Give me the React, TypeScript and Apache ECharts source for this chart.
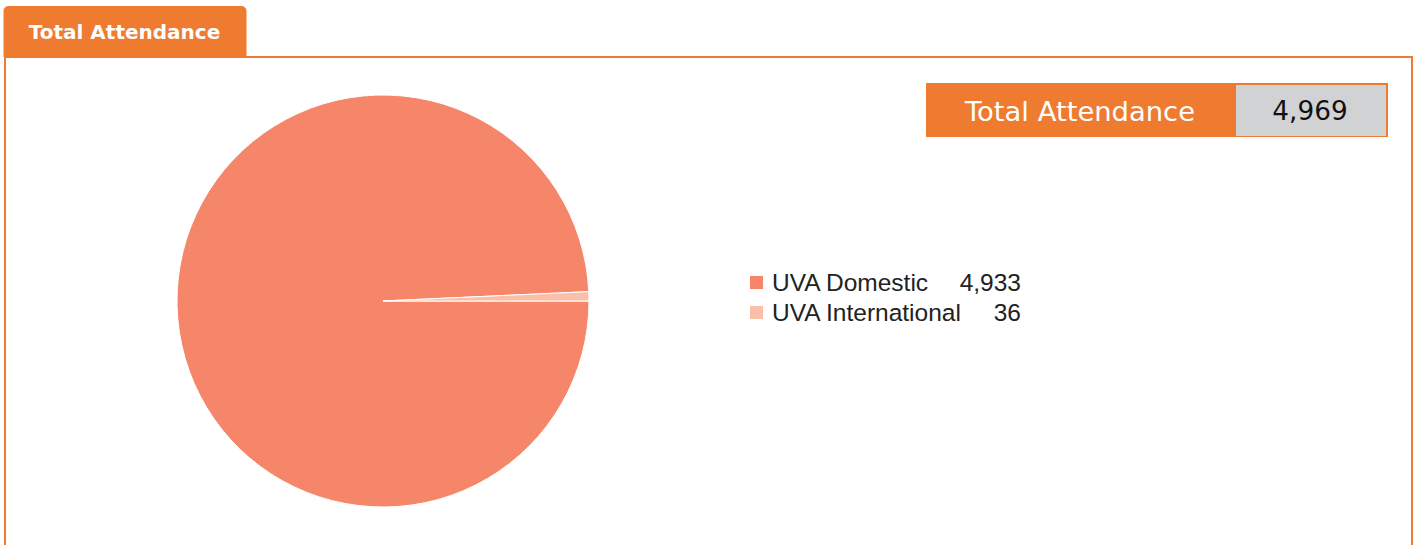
import React, { useEffect, useRef } from "react";
import * as echarts from "echarts";

const categories = ["UVA Domestic", "UVA International"];
const values = [4933, 36];
const colors = ["#F5866A", "#F9BFA8"];
const tabTitle = "Total Attendance";
const boxLabel = "Total Attendance";
const totalValue = 4969;

const ORANGE = "#EF7B30";

const fmt = (v: number) => v.toLocaleString("en-US");

export default function App() {
  const ref = useRef<HTMLDivElement>(null);
  useEffect(() => {
    if (!ref.current) return;
    const chart = echarts.init(ref.current, null, { renderer: "svg" });
    const valueByName: Record<string, number> = {};
    categories.forEach((c, i) => (valueByName[c] = values[i]));
    const legendFont = "Liberation Sans, Arial, sans-serif";
    chart.setOption({
      animation: false,
      backgroundColor: "#ffffff",
      color: colors,
      legend: {
        orient: "vertical",
        left: 748,
        top: 270,
        padding: 0,
        icon: "rect",
        itemWidth: 15,
        itemHeight: 15,
        itemGap: 5,
        selectedMode: false,
        data: categories,
        formatter: (name: string) => `{n|${name}}{v|${fmt(valueByName[name])}}`,
        textStyle: {
          fontFamily: legendFont,
          fontSize: 24.5,
          color: "#222222",
          rich: {
            n: {
              fontFamily: legendFont,
              fontSize: 24.5,
              color: "#222222",
              width: 192,
              padding: [0, 0, 0, 3],
            },
            v: {
              fontFamily: legendFont,
              fontSize: 24.5,
              color: "#222222",
              width: 57,
              align: "right",
            },
          },
        },
      },
      series: [
        {
          type: "pie",
          center: [383, 301],
          radius: 206,
          startAngle: 0,
          clockwise: true,
          label: { show: false },
          labelLine: { show: false },
          emphasis: { disabled: true },
          itemStyle: { borderColor: "#ffffff", borderWidth: 1 },
          data: categories.map((c, i) => ({ name: c, value: values[i] })),
        },
      ],
      graphic: [
        {
          type: "rect",
          shape: { x: 3.5, y: 6, width: 243, height: 51, r: [5, 5, 0, 0] },
          style: { fill: ORANGE },
          silent: true,
        },
        {
          type: "text",
          x: 124.5,
          y: 32,
          style: {
            text: tabTitle,
            fill: "#ffffff",
            font: "bold 20px 'DejaVu Sans', Verdana, sans-serif",
            align: "center",
            verticalAlign: "middle",
          },
          silent: true,
        },
        {
          type: "rect",
          shape: { x: 5, y: 57, width: 1407, height: 600 },
          style: { fill: "none", stroke: ORANGE, lineWidth: 2 },
          silent: true,
        },
        {
          type: "rect",
          shape: { x: 926, y: 83, width: 462, height: 54 },
          style: { fill: ORANGE },
          silent: true,
        },
        {
          type: "rect",
          shape: { x: 1236, y: 85, width: 150, height: 51 },
          style: { fill: "#D1D2D4" },
          silent: true,
        },
        {
          type: "text",
          x: 1080,
          y: 111,
          style: {
            text: boxLabel,
            fill: "#ffffff",
            font: "27.4px 'DejaVu Sans', Verdana, sans-serif",
            align: "center",
            verticalAlign: "middle",
          },
          silent: true,
        },
        {
          type: "text",
          x: 1310,
          y: 111,
          style: {
            text: fmt(totalValue),
            fill: "#111111",
            font: "26.3px 'DejaVu Sans', Verdana, sans-serif",
            align: "center",
            verticalAlign: "middle",
          },
          silent: true,
        },
      ],
    });
    return () => chart.dispose();
  }, []);
  return (
    <div
      ref={ref}
      style={{ position: "fixed", left: 0, top: 0, width: 1418, height: 545 }}
    />
  );
}
